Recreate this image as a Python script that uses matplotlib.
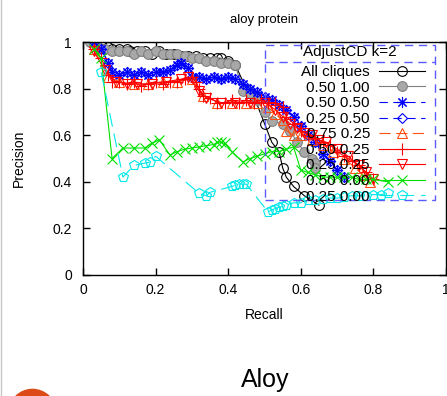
import matplotlib
matplotlib.use("Agg")
import matplotlib.pyplot as plt
from matplotlib.patches import Circle, Rectangle
from matplotlib.lines import Line2D

plt.rcParams['font.family'] = ['Liberation Sans', 'DejaVu Sans']
plt.rcParams['lines.scale_dashes'] = False

# precision / recall curves
all_x = [0.03, 0.05, 0.07, 0.08, 0.10, 0.12, 0.13, 0.15, 0.17, 0.19, 0.21, 0.23, 0.25, 0.27,
         0.29, 0.31, 0.33, 0.35, 0.37, 0.38, 0.40, 0.42, 0.45, 0.47, 0.50, 0.52, 0.54, 0.55,
         0.56, 0.58, 0.61, 0.65]
all_y = [1.00, 0.99, 0.98, 0.97, 0.97, 0.97, 0.96, 0.96, 0.96, 0.95, 0.96, 0.95, 0.95, 0.94,
         0.94, 0.94, 0.93, 0.93, 0.93, 0.93, 0.92, 0.90, 0.80, 0.77, 0.65, 0.57, 0.53, 0.46,
         0.42, 0.38, 0.34, 0.30]

g100_x = [0.02, 0.04, 0.06, 0.08, 0.10, 0.12, 0.14, 0.16, 0.18, 0.20, 0.22, 0.24, 0.26, 0.28,
          0.30, 0.32, 0.34, 0.36, 0.38, 0.40, 0.42, 0.44, 0.46, 0.48, 0.50, 0.52, 0.55, 0.57,
          0.59, 0.61, 0.63, 0.64, 0.64]
g100_y = [1.00, 0.98, 0.97, 0.96, 0.96, 0.96, 0.95, 0.96, 0.95, 0.96, 0.95, 0.95, 0.95, 0.94,
          0.93, 0.93, 0.92, 0.92, 0.91, 0.91, 0.90, 0.79, 0.78, 0.75, 0.70, 0.66, 0.65, 0.62,
          0.57, 0.53, 0.50, 0.48, 0.46]

b050_x = [0.03, 0.05, 0.07, 0.08, 0.10, 0.12, 0.14, 0.16, 0.18, 0.20, 0.22, 0.24, 0.26, 0.27,
          0.29, 0.30, 0.32, 0.34, 0.36, 0.38, 0.40, 0.42, 0.44, 0.46, 0.48, 0.50, 0.52, 0.54,
          0.56, 0.58, 0.60, 0.62, 0.64, 0.66, 0.68, 0.70, 0.72]
b050_y = [1.00, 0.97, 0.91, 0.87, 0.86, 0.87, 0.86, 0.87, 0.86, 0.87, 0.87, 0.88, 0.90, 0.91,
          0.89, 0.85, 0.85, 0.84, 0.85, 0.84, 0.85, 0.84, 0.82, 0.80, 0.785, 0.765, 0.75, 0.73,
          0.71, 0.68, 0.64, 0.60, 0.57, 0.52, 0.49, 0.45, 0.42]

b025_x = b050_x
b025_y = b050_y

o075_x = [0.03, 0.07, 0.10, 0.14, 0.18, 0.22, 0.26, 0.30, 0.33, 0.37, 0.41, 0.45, 0.48, 0.51,
          0.53, 0.55, 0.56, 0.58, 0.60, 0.63, 0.66, 0.69, 0.72, 0.75, 0.77, 0.79]
o075_y = [0.97, 0.85, 0.83, 0.82, 0.82, 0.83, 0.83, 0.84, 0.77, 0.74, 0.74, 0.74, 0.74, 0.72,
          0.69, 0.665, 0.62, 0.60, 0.60, 0.58, 0.56, 0.53, 0.50, 0.46, 0.43, 0.40]

r050_x = [0.03, 0.05, 0.07, 0.08, 0.10, 0.12, 0.14, 0.16, 0.18, 0.20, 0.22, 0.24, 0.26, 0.28,
          0.30, 0.31, 0.32, 0.33, 0.35, 0.37, 0.39, 0.41, 0.43, 0.45, 0.47, 0.49, 0.51, 0.53,
          0.55, 0.56, 0.58, 0.60, 0.62, 0.64, 0.66, 0.68, 0.70, 0.72, 0.74, 0.76, 0.78, 0.80]
r050_y = [0.97, 0.93, 0.86, 0.83, 0.83, 0.82, 0.83, 0.81, 0.82, 0.83, 0.82, 0.83, 0.83, 0.84,
          0.85, 0.83, 0.80, 0.77, 0.76, 0.74, 0.74, 0.75, 0.74, 0.75, 0.74, 0.75, 0.74, 0.74,
          0.72, 0.68, 0.65, 0.62, 0.60, 0.59, 0.57, 0.56, 0.53, 0.51, 0.49, 0.47, 0.44, 0.41]

r025_x = [0.03, 0.06, 0.09, 0.12, 0.15, 0.19, 0.23, 0.27, 0.29, 0.32, 0.34, 0.38, 0.42, 0.46,
          0.50, 0.53, 0.55, 0.57, 0.59, 0.61, 0.63, 0.65, 0.67, 0.70, 0.73, 0.76, 0.78, 0.80]
r025_y = [0.96, 0.88, 0.83, 0.82, 0.82, 0.82, 0.83, 0.84, 0.85, 0.79, 0.76, 0.74, 0.74, 0.74,
          0.74, 0.71, 0.68, 0.65, 0.63, 0.61, 0.60, 0.58, 0.57, 0.54, 0.51, 0.47, 0.44, 0.41]

g000_x = [0.03, 0.05, 0.08, 0.11, 0.14, 0.17, 0.19, 0.21, 0.24, 0.26, 0.28, 0.30, 0.32, 0.34,
          0.36, 0.37, 0.38, 0.39, 0.41, 0.44, 0.46, 0.48, 0.50, 0.52, 0.54, 0.56, 0.58, 0.60,
          0.62, 0.64, 0.66, 0.68, 0.70, 0.72, 0.74, 0.76, 0.78, 0.80, 0.84]
g000_y = [0.97, 0.93, 0.50, 0.545, 0.545, 0.545, 0.565, 0.58, 0.515, 0.53, 0.54, 0.545, 0.55,
          0.555, 0.56, 0.57, 0.57, 0.565, 0.53, 0.485, 0.50, 0.51, 0.52, 0.53, 0.53, 0.54, 0.55,
          0.45, 0.44, 0.43, 0.42, 0.42, 0.42, 0.42, 0.42, 0.41, 0.41, 0.41, 0.40]

c000_x = [0.05, 0.11, 0.14, 0.17, 0.185, 0.20, 0.32, 0.34, 0.35, 0.41, 0.42, 0.43, 0.44, 0.45,
          0.51, 0.52, 0.53, 0.54, 0.55, 0.56, 0.58, 0.60, 0.62, 0.64, 0.66, 0.68, 0.70, 0.72,
          0.74, 0.76, 0.78, 0.80, 0.82, 0.84]
c000_y = [0.87, 0.42, 0.47, 0.48, 0.485, 0.51, 0.35, 0.34, 0.355, 0.38, 0.385, 0.39, 0.39, 0.39,
          0.27, 0.28, 0.285, 0.29, 0.295, 0.30, 0.31, 0.31, 0.32, 0.32, 0.325, 0.33, 0.33, 0.335,
          0.34, 0.34, 0.34, 0.345, 0.345, 0.35]

labels = ['All cliques', '0.50 1.00', '0.50 0.50', '0.25 0.50', '0.75 0.25',
          '0.50 0.25', '0.25 0.25', '0.50 0.00', '0.25 0.00']
xs = [all_x, g100_x, b050_x, b025_x, o075_x, r050_x, r025_x, g000_x, c000_x]
ys = [all_y, g100_y, b050_y, b025_y, o075_y, r050_y, r025_y, g000_y, c000_y]

styles = [
    dict(color='black', marker='o', mfc='none', ms=7, ls='-'),
    dict(color='#808080', marker='o', mfc='#a8a8a8', ms=7, ls='-'),
    dict(color='#0000ff', marker=(8, 2, 0), ms=8, ls=(0, (6, 4))),
    dict(color='#0000ff', marker='D', mfc='none', ms=5, ls=(0, (6, 4))),
    dict(color='#ff5010', marker='^', mfc='none', ms=7, ls=(0, (8, 4))),
    dict(color='#ff0000', marker='+', ms=8, ls='-'),
    dict(color='#ff0000', marker='v', mfc='none', ms=7, ls='-'),
    dict(color='#00e000', marker='x', ms=7, ls='-'),
    dict(color='#00e8e8', marker='p', mfc='none', ms=7, ls=(0, (10, 5))),
]

fig = plt.figure(figsize=(4.47, 3.96), dpi=100)
ax = fig.add_axes([83/447, 1-275/396, 363/447, 233/396])

for x, y, lab, st in zip(xs, ys, labels, styles):
    ax.plot(x, y, label=lab, lw=0.8, mew=0.8, **st)

ax.set_xlim(0, 1)
ax.set_ylim(0, 1)
ticks = [0, 0.2, 0.4, 0.6, 0.8, 1]
ticklabels = ['0', '0.2', '0.4', '0.6', '0.8', '1']
ax.set_xticks(ticks, ticklabels)
ax.set_yticks(ticks, ticklabels)
ax.tick_params(direction='in', top=True, right=True, length=5, width=1,
               labelsize=10, pad=8)
ax.tick_params(axis='x', pad=6)
for s in ax.spines.values():
    s.set_linewidth(1)

ax.set_title('aloy protein', fontsize=9.5, pad=14)
ax.set_xlabel('Recall', fontsize=10, labelpad=8)
ax.set_ylabel('Precision', fontsize=10, labelpad=19)

# legend rows, gnuplot style: label then sample
leg = ax.legend(loc='upper right', bbox_to_anchor=(0.942, 0.90), borderaxespad=0,
                frameon=False, markerfirst=False, fontsize=11, labelspacing=0.1,
                handlelength=3.0, handletextpad=0.6, borderpad=0)
ax.text(0.7355, 0.957, 'AdjustCD k=2', transform=ax.transAxes, ha='center', va='center',
        fontsize=11)
blue = '#5a5aff'
ax.add_patch(Rectangle((0.501, 0.322), 0.469, 0.665, transform=ax.transAxes, fill=False,
                       ec=blue, lw=1, ls=(0, (6, 4)), zorder=5))
ax.add_line(Line2D([0.501, 0.970], [0.914, 0.914], transform=ax.transAxes, color=blue,
                   lw=1, ls=(0, (6, 4)), zorder=5))

# page decorations around the embedded plot
fig.text(265/447, 1-380/396, 'Aloy', ha='center', va='center', fontsize=18)
fig.add_artist(Line2D([1/447, 1/447], [0, 1], color='#c8c8c8', lw=1))
fig.add_artist(Circle((0.325, -0.17), 0.236, transform=fig.dpi_scale_trans,
                      color='#dc4a18', clip_on=False))

fig.savefig('out.png', dpi=100)
